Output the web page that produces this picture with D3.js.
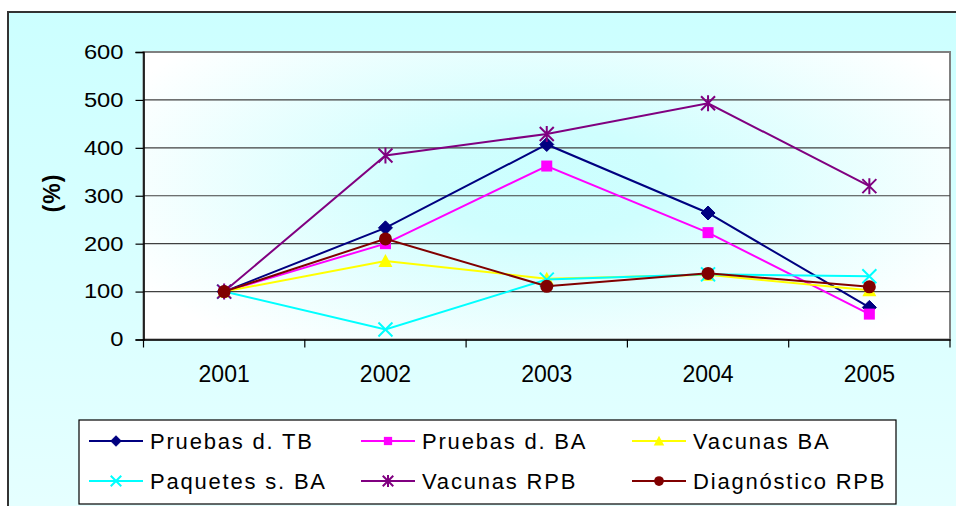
<!DOCTYPE html>
<html><head><meta charset="utf-8">
<script src="https://cdn.jsdelivr.net/npm/d3@7"></script>
<style>
body{margin:0;padding:0;background:#fff;overflow:hidden}
svg{display:block;font-family:Arial,"Liberation Sans",sans-serif}
</style></head>
<body>
<svg id="chart" width="956" height="506"></svg>
<script>
const years = ["2001","2002","2003","2004","2005"];
const yTicks = [0,100,200,300,400,500,600];
const seriesNames = ["Pruebas d. TB","Pruebas d. BA","Vacunas BA","Paquetes s. BA","Vacunas RPB","Diagnóstico RPB"];
const pruebasTB = [100,233,407,264,67];
const pruebasBA = [100,200,362,223,53];
const vacunasBA = [100,164,127,135,103];
const paquetesBA = [100,21,125,136,132];
const vacunasRPB = [100,384,429,493,320];
const diagnosticoRPB = [100,210,111,138,110];
const seriesValues = [pruebasTB,pruebasBA,vacunasBA,paquetesBA,vacunasRPB,diagnosticoRPB];
const colors = ["#000080","#FF00FF","#FFFF00","#00FFFF","#800080","#800000"];
const markers = ["diamond","square","triangle","x","asterisk","circle"];

const svg = d3.select("#chart");
const defs = svg.append("defs");
const og = defs.append("linearGradient").attr("id","outerG").attr("x1",0).attr("y1",0).attr("x2",0).attr("y2",1);
og.append("stop").attr("offset","0%").attr("stop-color","#CCFFFF");
og.append("stop").attr("offset","100%").attr("stop-color","#E6FFFF");
const pg = defs.append("radialGradient").attr("id","plotG").attr("cx","50%").attr("cy","45%").attr("r","58%")
  .attr("gradientTransform","translate(0.5,0.45) scale(1,1.25) translate(-0.5,-0.45)");
pg.append("stop").attr("offset","0%").attr("stop-color","#CCFFFF");
pg.append("stop").attr("offset","25%").attr("stop-color","#CFFEFE");
pg.append("stop").attr("offset","100%").attr("stop-color","#FFFFFF");

// outer frame
svg.append("rect").attr("x",8).attr("y",12).attr("width",960).attr("height",510)
  .attr("fill","url(#outerG)").attr("stroke","#333").attr("stroke-width",2);

const pLeft=143.5, pRight=950, pTop=52, pBottom=339.5;
const x = d3.scaleBand().domain(years).range([pLeft,pRight]).padding(0);
const y = d3.scaleLinear().domain([0,600]).range([pBottom,pTop]);

// plot area
svg.append("rect").attr("x",pLeft).attr("y",pTop).attr("width",pRight-pLeft).attr("height",pBottom-pTop)
  .attr("fill","url(#plotG)").attr("stroke","#808080").attr("stroke-width",2);

// gridlines
svg.append("g").selectAll("line").data(yTicks.filter(d=>d>0)).join("line")
  .attr("x1",pLeft).attr("x2",pRight).attr("y1",d=>y(d)).attr("y2",d=>y(d))
  .attr("stroke",d=>d===600?"#808080":"#404040").attr("stroke-width",d=>d===600?2:1.2);

// y axis
const yAxis = d3.axisLeft(y).tickValues(yTicks).tickSize(8).tickPadding(12);
const gy = svg.append("g").attr("transform",`translate(${pLeft},0)`).call(yAxis);
gy.select(".domain").attr("stroke","#000").attr("stroke-width",1.5);
gy.selectAll(".tick line").attr("stroke","#000").attr("stroke-width",1.2);
gy.selectAll(".tick text").attr("font-size",20).attr("fill","#000")
  .attr("font-family","Arial,'Liberation Sans',sans-serif")
  .attr("textLength",d=>String(d).length*13.2).attr("lengthAdjust","spacingAndGlyphs");

// x axis
const xAxis = d3.axisBottom(x).tickSize(0).tickPadding(26.5);
const gx = svg.append("g").attr("transform",`translate(0,${pBottom})`).call(xAxis);
gx.select(".domain").attr("stroke","#000").attr("stroke-width",1.5);
gx.selectAll(".tick text").attr("font-size",23).attr("fill","#000")
  .attr("font-family","Arial,'Liberation Sans',sans-serif");
// category boundary ticks
const bounds = years.map(d=>x(d)).concat([x(years[years.length-1])+x.bandwidth()]);
gx.append("g").selectAll("line").data(bounds).join("line")
  .attr("x1",d=>d).attr("x2",d=>d).attr("y1",0).attr("y2",8)
  .attr("stroke","#000").attr("stroke-width",1.2);

// y title
svg.append("text").attr("transform",`translate(60,193) rotate(-90)`)
  .attr("text-anchor","middle").attr("font-size",23).attr("font-weight","bold")
  .style("letter-spacing","1px").text("(%)");

function drawMarker(g, type, color, cx, cy, scale=1){
  const s = scale;
  if(type==="diamond"){
    g.append("path").attr("d",`M${cx},${cy-7*s}L${cx+7*s},${cy}L${cx},${cy+7*s}L${cx-7*s},${cy}Z`)
      .attr("fill",color).attr("stroke",color);
  } else if(type==="square"){
    g.append("rect").attr("x",cx-5.5*s).attr("y",cy-5.5*s).attr("width",11*s).attr("height",11*s)
      .attr("fill",color);
  } else if(type==="triangle"){
    g.append("path").attr("d",`M${cx},${cy-7*s}L${cx+7*s},${cy+6*s}L${cx-7*s},${cy+6*s}Z`)
      .attr("fill",color);
  } else if(type==="x"){
    g.append("path").attr("d",`M${cx-7*s},${cy-7*s}L${cx+7*s},${cy+7*s}M${cx-7*s},${cy+7*s}L${cx+7*s},${cy-7*s}`)
      .attr("stroke",color).attr("stroke-width",2).attr("fill","none");
  } else if(type==="asterisk"){
    g.append("path").attr("d",`M${cx-7*s},${cy-7*s}L${cx+7*s},${cy+7*s}M${cx-7*s},${cy+7*s}L${cx+7*s},${cy-7*s}M${cx},${cy-8*s}L${cx},${cy+8*s}`)
      .attr("stroke",color).attr("stroke-width",2).attr("fill","none");
  } else if(type==="circle"){
    g.append("circle").attr("cx",cx).attr("cy",cy).attr("r",6.5*s).attr("fill",color);
  }
}

const line = d3.line().x((d,i)=>x(years[i])+x.bandwidth()/2).y(d=>y(d));
seriesValues.forEach((vals,si)=>{
  const g = svg.append("g");
  g.append("path").datum(vals).attr("d",line).attr("fill","none")
    .attr("stroke",colors[si]).attr("stroke-width",2);
  vals.forEach((v,i)=>drawMarker(g, markers[si], colors[si], x(years[i])+x.bandwidth()/2, y(v)));
});

// legend
const lg = svg.append("g");
lg.append("rect").attr("x",79).attr("y",420).attr("width",817).attr("height",84)
  .attr("fill","#fff").attr("stroke","#000").attr("stroke-width",1.2);
const colX = [89,361,632];
const rowY = [441,481];
seriesNames.forEach((name,i)=>{
  const cx = colX[i%3], cy = rowY[Math.floor(i/3)];
  lg.append("line").attr("x1",cx).attr("x2",cx+54).attr("y1",cy).attr("y2",cy)
    .attr("stroke",colors[i]).attr("stroke-width",2);
  drawMarker(lg, markers[i], colors[i], cx+27, cy, 0.75);
  lg.append("text").attr("x",cx+61).attr("y",cy+7.5).attr("font-size",22)
    .style("letter-spacing","1.8px").text(name);
});
</script>
</body></html>
